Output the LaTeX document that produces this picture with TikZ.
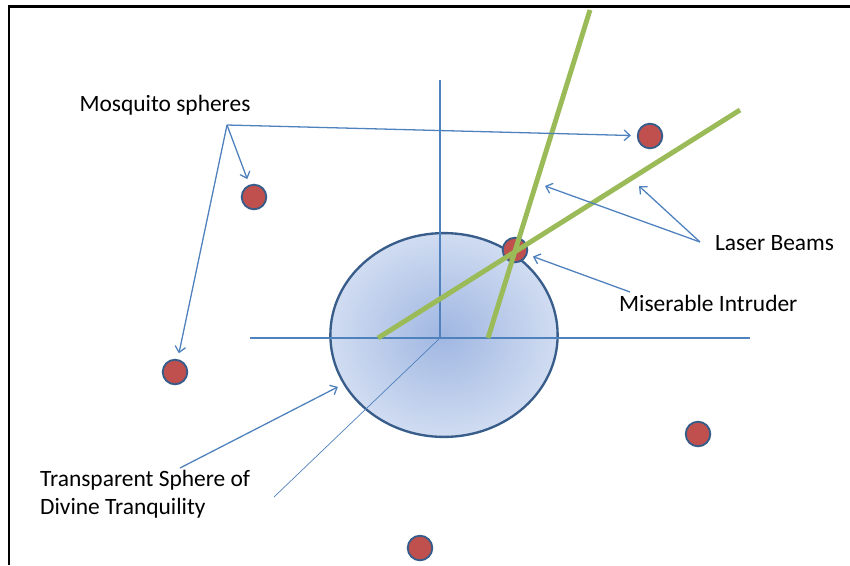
\documentclass[tikz,border=0pt]{standalone}
\usepackage{fontspec}
\setmainfont{Carlito}
\usetikzlibrary{arrows.meta,shapes.geometric}
\definecolor{axisblue}{RGB}{79,129,189}
\definecolor{rimblue}{RGB}{56,93,138}
\definecolor{coreblue}{RGB}{160,183,226}
\definecolor{edgeblue}{RGB}{208,220,241}
\definecolor{bugred}{RGB}{192,80,77}
\definecolor{lasergreen}{RGB}{155,187,89}

\begin{document}
\begin{tikzpicture}[x=0.3mm,y=-0.3mm,font=\fontsize{20}{24}\selectfont,
   ax/.style={axisblue,line width=0.9pt},
   ptr/.style={axisblue,line width=1.1pt,shorten >=5pt,
     -{Straight Barb[length=5pt,width=9pt]}},
   bug/.style={circle,draw=rimblue,line width=1.6pt,fill=bugred,
     minimum size=21pt,inner sep=0pt},
   beam/.style={lasergreen,line width=4.2pt}]
  \useasboundingbox (0,0) rectangle (850,565);
  % frame
  \draw[line width=1.8pt] (850,6.5) -- (9,6.5) -- (9,565);
  % the sphere
  \node[ellipse,draw=rimblue,line width=2pt,inner color=coreblue,
    outer color=edgeblue,minimum width=194pt,minimum height=174pt,
    inner sep=0pt] (sphere) at (444,335) {};
  % axes
  \draw[ax] (250,338) -- (750,338);
  \draw[ax] (440,80) -- (440,338);
  \draw[axisblue,line width=0.6pt] (440,338) -- (274,497);
  % mosquitoes
  \node[bug] (m1) at (650,136) {};
  \node[bug] (m2) at (254,197) {};
  \node[bug] (m3) at (175,372) {};
  \node[bug] (m4) at (698,434) {};
  \node[bug] (m5) at (420,548) {};
  \node[bug] (intr) at (515,250) {};
  % laser beams
  \draw[beam] (488,338) -- (590,10);
  \draw[beam] (378,338) -- (740,110);
  % labels
  \node (msq) at (165,105) {Mosquito spheres};
  \node[anchor=west] (lsr) at (711,243) {Laser Beams};
  \node[anchor=west] (mis) at (615,303) {Miserable Intruder};
  \node[anchor=west,align=left] (tsd) at (36,494)
    {Transparent Sphere of\\Divine Tranquility};
  % pointers
  \coordinate (hub) at (227,125);
  \draw[ptr] (hub) -- (m1);
  \draw[ptr] (hub) -- (m2);
  \draw[ptr] (hub) -- (m3);
  \coordinate (lhub) at (700,242);
  \coordinate (b1) at (545,186);
  \coordinate (b2) at (639,186);
  \draw[ptr,shorten >=0pt] (lhub) -- (b1);
  \draw[ptr,shorten >=0pt] (lhub) -- (b2);
  \coordinate (mhub) at (630,292);
  \draw[ptr] (mhub) -- (intr);
  \coordinate (thub) at (180,468);
  \draw[ptr] (thub) -- (sphere.206);
\end{tikzpicture}
\end{document}
